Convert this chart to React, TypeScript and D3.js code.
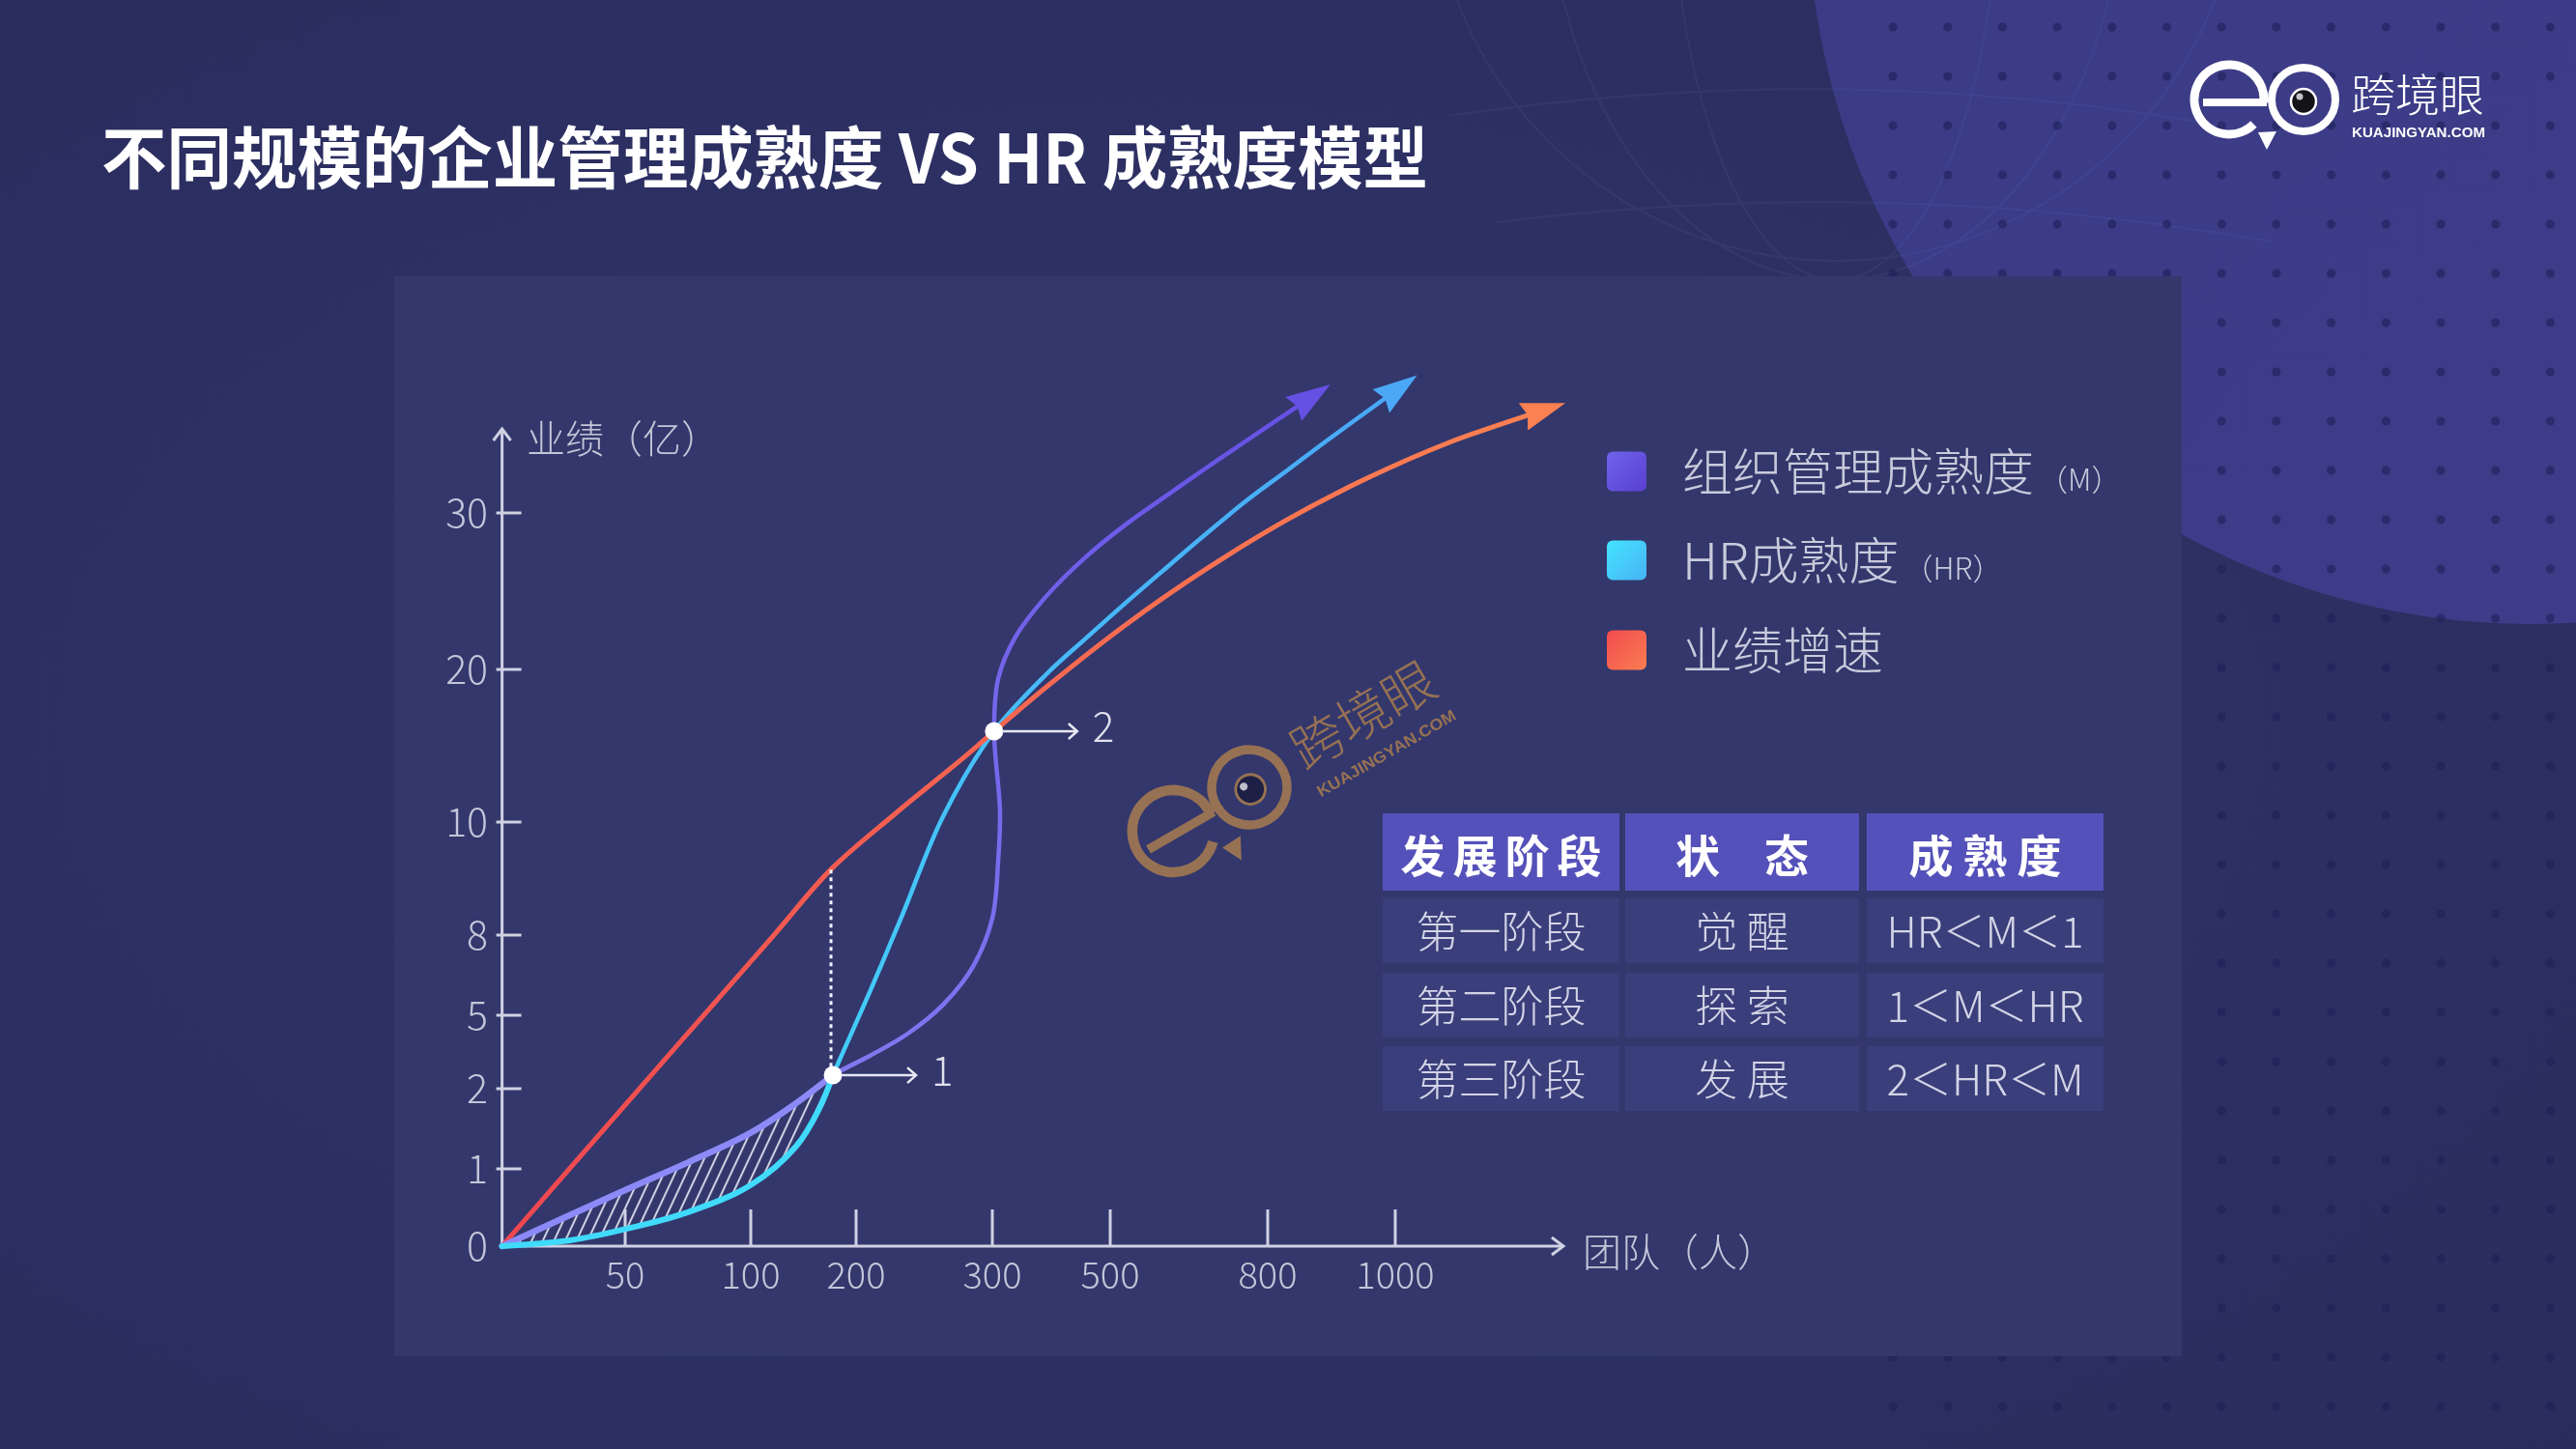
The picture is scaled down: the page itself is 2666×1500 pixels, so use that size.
import React from "react";
import * as d3 from "d3";

// ---------------- data ----------------
const TITLE = "不同规模的企业管理成熟度 VS HR 成熟度模型";
const X_TICKS = [0, 50, 100, 200, 300, 500, 800, 1000];
const Y_TICKS = [0, 1, 2, 5, 8, 10, 20, 30];
const X_AXIS_LABEL = "团队（人）";
const Y_AXIS_LABEL = "业绩（亿）";

// [team size, revenue]
const M_SERIES: [number, number][] = [
  [0, 0], [50, 0.725], [75, 1.08], [100, 1.45], [139, 1.78], [178, 2.55],
  [210, 3.34], [238, 4.25], [264, 5.4], [286, 6.84], [300, 8.3], [310, 9.33],
  [313, 10.7], [303, 15.95], [310, 19.4], [338, 22.0], [392, 24.7], [459, 27.2],
  [531, 29.3], [607, 31.1], [684, 32.9], [760, 34.63], [853, 36.98],
];
const HR_SERIES: [number, number][] = [
  [0, 0], [27.6, 0.075], [50, 0.22], [75, 0.44], [100, 0.79], [143, 1.28],
  [165, 1.75], [178, 2.55], [210, 5.87], [233, 8.3], [264, 10.4], [303, 15.95],
  [392, 19.7], [459, 22.0], [531, 24.3], [607, 26.5], [684, 28.7], [760, 30.8],
  [830, 32.7], [892, 34.6], [990, 37.5],
];
const REV_SERIES: [number, number][] = [
  [0, 0], [53.7, 1.93], [81.9, 5.07], [122.9, 8.02], [176, 9.16], [229, 10.57],
  [281, 14.37], [303, 15.95], [392, 18.86], [531, 22.89], [684, 26.44], [830, 29.56],
  [955, 32.2], [1080, 34.43], [1215, 36.34],
];
const STAGE_POINTS = [
  { label: "1", team: 178, value: 2.55, revenue: 9.16 },
  { label: "2", team: 303, value: 15.95, revenue: 15.95 },
];
const LEGEND_NAMES = ["组织管理成熟度", "HR成熟度", "业绩增速"];
const LEGEND_TAGS = ["（M）", "（HR）", ""];
const TABLE_HEADER = ["发展阶段", "状　态", "成熟度"];
const TABLE_ROWS = [
  ["第一阶段", "觉 醒", "HR＜M＜1"],
  ["第二阶段", "探 索", "1＜M＜HR"],
  ["第三阶段", "发 展", "2＜HR＜M"],
];
const LOGO_CN = "跨境眼";
const LOGO_EN = "KUAJINGYAN.COM";

// ---------------- layout ----------------
const W = 2666;
const H = 1500;
const X_RANGE = [519.6, 647, 777, 886, 1027, 1149, 1312, 1444];
const Y_RANGE = [1290, 1210, 1127, 1051, 968, 851, 693, 531];
const FONT = "'Noto Sans CJK SC', 'Noto Sans', sans-serif";
const AXIS_COLOR = "#cfd1e2";
const LABEL_COLOR = "#c4c6d8";

const SERIES_STYLE = [
  { id: "m", c0: "#8e8bf7", c1: "#6650e4", w: 4.5 },
  { id: "hr", c0: "#3fdcfb", c1: "#4aa8f6", w: 4.5 },
  { id: "rev", c0: "#ee4650", c1: "#fb8052", w: 5 },
];
const LEGEND_GRAD = [
  ["#6e63ea", "#5a3fd2"],
  ["#44e4ff", "#48b2f5"],
  ["#f34c4f", "#f97d50"],
];

function Logo({ tx, ty, rot, s, color, pupilFill, textWeight }: any) {
  const p = d3.path();
  p.arc(-77, 0, 36, (45 * Math.PI) / 180, (365 * Math.PI) / 180);
  return (
    <g transform={`translate(${tx},${ty}) rotate(${rot}) scale(${s})`}>
      <path d={p.toString()} fill="none" stroke={color} strokeWidth={9} />
      <line x1={-104} y1={3} x2={-38} y2={3} stroke={color} strokeWidth={8} />
      <circle cx={0} cy={0} r={33} fill="none" stroke={color} strokeWidth={8} />
      <polygon points="-47,34 -28,33 -38,52" fill={color} />
      <circle cx={0} cy={2} r={13} fill={pupilFill} stroke={color} strokeWidth={2.5} />
      <circle cx={-4} cy={-3} r={3.5} fill="rgba(255,255,255,0.75)" />
      <text x={49} y={12} fontSize={46} fontWeight={textWeight} fill={color} fontFamily={FONT}>
        {LOGO_CN}
      </text>
      <text x={50} y={39} fontSize={14} fontWeight={700} fill={color} fontFamily="'Liberation Sans', sans-serif" textLength={138} lengthAdjust="spacingAndGlyphs">
        {LOGO_EN}
      </text>
    </g>
  );
}

export default function App() {
  const x = d3.scaleLinear().domain(X_TICKS).range(X_RANGE);
  const y = d3.scaleLinear().domain(Y_TICKS).range(Y_RANGE);
  const line = d3
    .line<[number, number]>()
    .x((d) => x(d[0]))
    .y((d) => y(d[1]))
    .curve(d3.curveCatmullRom.alpha(0.5));

  const allSeries = [M_SERIES, HR_SERIES, REV_SERIES];
  const x0 = x(0);
  const y0 = y(0);

  // hatched region between M and HR up to stage point 1
  const s1 = STAGE_POINTS[0];
  const mLow = M_SERIES.filter((d) => d[0] <= s1.team && d[1] <= s1.value);
  const hrLowFwd = HR_SERIES.filter((d) => d[0] <= s1.team && d[1] <= s1.value);
  const hrLow = hrLowFwd.slice().reverse();
  const hatchPath = (line(mLow) || "") + (line(hrLow) || "").replace(/^M/, "L") + "Z";

  // dots grid
  const dots: [number, number][] = [];
  for (let i = 0; i < 13; i++) {
    for (let j = 0; j < 30; j++) {
      const dx = 1959 + i * 56.7;
      const dy = 28 + j * 51;
      if (dy > 1500) continue;
      dots.push([dx, dy]);
    }
  }

  const cols = [
    { x: 1431, w: 245 },
    { x: 1682, w: 242 },
    { x: 1932, w: 245 },
  ];
  const rowsY = [930, 1007, 1083];
  const headerLS = [8, 0, 10];

  return (
    <svg width={W} height={H} viewBox={`0 0 ${W} ${H}`} style={{ position: "fixed", left: 0, top: 0, display: "block" }}>
      <defs>
        <radialGradient id="bgGrad" cx="0.45" cy="0.5" r="0.75">
          <stop offset="0" stopColor="#31346a" />
          <stop offset="1" stopColor="#292c5c" />
        </radialGradient>
        <linearGradient id="circGrad" x1="0" y1="0" x2="1" y2="1">
          <stop offset="0" stopColor="#3a3a84" />
          <stop offset="1" stopColor="#3d3d8a" />
        </linearGradient>
        <pattern id="hatch" patternUnits="userSpaceOnUse" width={10.5} height={10.5} patternTransform="rotate(25)">
          <line x1={2} y1={0} x2={2} y2={10.5} stroke="#ececf6" strokeWidth={1.9} />
        </pattern>
        {SERIES_STYLE.map((st, i) => {
          const data = allSeries[i];
          const last = data[data.length - 1];
          return (
            <linearGradient key={st.id} id={`grad-${st.id}`} gradientUnits="userSpaceOnUse" x1={x0} y1={y0} x2={x(last[0])} y2={y(last[1])}>
              <stop offset="0" stopColor={st.c0} />
              <stop offset="1" stopColor={st.c1} />
            </linearGradient>
          );
        })}
        {SERIES_STYLE.map((st) => (
          <marker key={st.id} id={`arr-${st.id}`} markerUnits="userSpaceOnUse" markerWidth={46} markerHeight={30} viewBox="0 0 46 30" refX={10} refY={15} orient="auto">
            <path d="M0,0 L46,15 L0,30 L5,15 Z" fill={st.c1} />
          </marker>
        ))}
        {LEGEND_GRAD.map((g, i) => (
          <linearGradient key={i} id={`lg-${i}`} x1="0" y1="0" x2="1" y2="1">
            <stop offset="0" stopColor={g[0]} />
            <stop offset="1" stopColor={g[1]} />
          </linearGradient>
        ))}
      </defs>

      {/* background */}
      <rect x={0} y={0} width={W} height={H} fill="url(#bgGrad)" />
      <circle cx={2619} cy={-102} r={748} fill="url(#circGrad)" />
      <g opacity={0.07} stroke="#8fa4ff" fill="none" strokeWidth={2}>
        <ellipse cx={1900} cy={-150} rx={420} ry={420} />
        <ellipse cx={1900} cy={-150} rx={300} ry={440} />
        <ellipse cx={1900} cy={-150} rx={170} ry={440} />
        <path d="M1500,120 Q1900,60 2300,130" />
        <path d="M1550,230 Q1950,180 2350,250" />
      </g>
      <g>
        {dots.map((d, i) => (
          <circle key={i} cx={d[0]} cy={d[1]} r={4.5} fill="#1e2058" opacity={0.6} />
        ))}
      </g>

      {/* panel */}
      <rect x={408} y={286} width={1850} height={1118} fill="#33376c" />

      {/* title */}
      <text x={105} y={190} fontSize={70} fontWeight={700} fill="#ffffff" fontFamily={FONT} textLength={1373} lengthAdjust="spacingAndGlyphs">
        {TITLE}
      </text>

      {/* logo top-right */}
      <Logo tx={2384} ty={103} rot={0} s={1} color="#ffffff" pupilFill="#141418" textWeight={300} />

      {/* watermark */}
      <g opacity={0.95}>
        <Logo tx={1293} ty={815} rot={-30} s={1.18} color="#9c7552" pupilFill="#1c1e44" textWeight={300} />
      </g>

      {/* hatch */}
      <path d={hatchPath} fill="url(#hatch)" opacity={0.9} />

      {/* axes */}
      <g stroke={AXIS_COLOR} strokeWidth={3} fill="none">
        <line x1={x0} y1={y0} x2={x0} y2={444} />
        <path d={`M${x0 - 9},${456} L${x0},${444} L${x0 + 9},${456}`} />
        <line x1={x0} y1={y0} x2={1618} y2={y0} />
        <path d={`M${1606},${y0 - 9} L${1618},${y0} L${1606},${y0 + 9}`} />
        {X_TICKS.filter((t) => t > 0).map((t) => (
          <line key={t} x1={x(t)} y1={y0} x2={x(t)} y2={y0 - 38} />
        ))}
        {Y_TICKS.filter((t) => t > 0).map((t) => (
          <line key={t} x1={x0 - 6} y1={y(t)} x2={x0 + 20} y2={y(t)} />
        ))}
      </g>
      <g fontFamily={FONT} fontWeight={300} fill={LABEL_COLOR}>
        {X_TICKS.filter((t) => t > 0).map((t) => (
          <text key={t} x={x(t)} y={1334} fontSize={38} textAnchor="middle">
            {t}
          </text>
        ))}
        {Y_TICKS.map((t) => (
          <text key={t} x={505} y={y(t) + 15} fontSize={41} textAnchor="end">
            {t}
          </text>
        ))}
        <text x={545} y={469} fontSize={40}>
          {Y_AXIS_LABEL}
        </text>
        <text x={1638} y={1311} fontSize={40}>
          {X_AXIS_LABEL}
        </text>
      </g>

      {/* curves */}
      {SERIES_STYLE.map((st, i) => (
        <path
          key={st.id}
          d={line(allSeries[i]) || ""}
          fill="none"
          stroke={`url(#grad-${st.id})`}
          strokeWidth={st.w}
          strokeLinecap="round"
          markerEnd={`url(#arr-${st.id})`}
        />
      ))}
      {/* thicker lower segments bounding hatch */}
      <path d={line(mLow) || ""} fill="none" stroke="#8c8af7" strokeWidth={6.5} strokeLinecap="round" />
      <path d={line(hrLowFwd) || ""} fill="none" stroke="#40dafb" strokeWidth={6} strokeLinecap="round" />

      {/* dotted guide at stage 1 */}
      <line
        x1={x(s1.team) - 2}
        y1={y(s1.revenue)}
        x2={x(s1.team) - 2}
        y2={y(s1.value) - 8}
        stroke="#f2f2fa"
        strokeWidth={3}
        strokeDasharray="4 4"
      />

      {/* stage points */}
      {STAGE_POINTS.map((p) => {
        const px = x(p.team);
        const py = y(p.value);
        return (
          <g key={p.label}>
            <circle cx={px} cy={py} r={9.5} fill="#ffffff" />
            <g stroke="#e8e8f2" strokeWidth={2.5} fill="none">
              <line x1={px + 8} y1={py} x2={px + 86} y2={py} />
              <path d={`M${px + 77},${py - 8} L${px + 86},${py} L${px + 77},${py + 8}`} />
            </g>
            <text x={px + 102} y={py + 11} fontSize={42} fontWeight={300} fill="#e0e0ec" fontFamily={FONT}>
              {p.label}
            </text>
          </g>
        );
      })}

      {/* legend */}
      {LEGEND_NAMES.map((name, i) => {
        const cy = [488, 580, 673][i];
        return (
          <g key={name}>
            <rect x={1663} y={cy - 20.5} width={41} height={41} rx={6} fill={`url(#lg-${i})`} />
            <text x={1741} y={cy + 20} fontSize={52} fontWeight={300} fill="#c9cbdc" fontFamily={FONT}>
              {name}
              {LEGEND_TAGS[i] ? (
                <tspan fontSize={31} dx={4}>
                  {LEGEND_TAGS[i]}
                </tspan>
              ) : null}
            </text>
          </g>
        );
      })}

      {/* table */}
      {TABLE_HEADER.map((h, ci) => (
        <g key={h}>
          <rect x={cols[ci].x} y={842} width={cols[ci].w} height={80} fill="#5551ba" />
          <text
            x={cols[ci].x + cols[ci].w / 2 + headerLS[ci] / 2}
            y={903}
            fontSize={46}
            fontWeight={700}
            fill="#ffffff"
            textAnchor="middle"
            letterSpacing={headerLS[ci]}
            fontFamily={FONT}
          >
            {h}
          </text>
        </g>
      ))}
      {TABLE_ROWS.map((row, ri) =>
        row.map((cell, ci) => (
          <g key={`${ri}-${ci}`}>
            <rect x={cols[ci].x} y={rowsY[ri]} width={cols[ci].w} height={67} fill="#3a3e7b" />
            <text
              x={cols[ci].x + cols[ci].w / 2}
              y={rowsY[ri] + 33.5 + 17}
              fontSize={44}
              fontWeight={300}
              fill="#d3d4e6"
              textAnchor="middle"
              fontFamily={FONT}
            >
              {cell}
            </text>
          </g>
        ))
      )}
    </svg>
  );
}
